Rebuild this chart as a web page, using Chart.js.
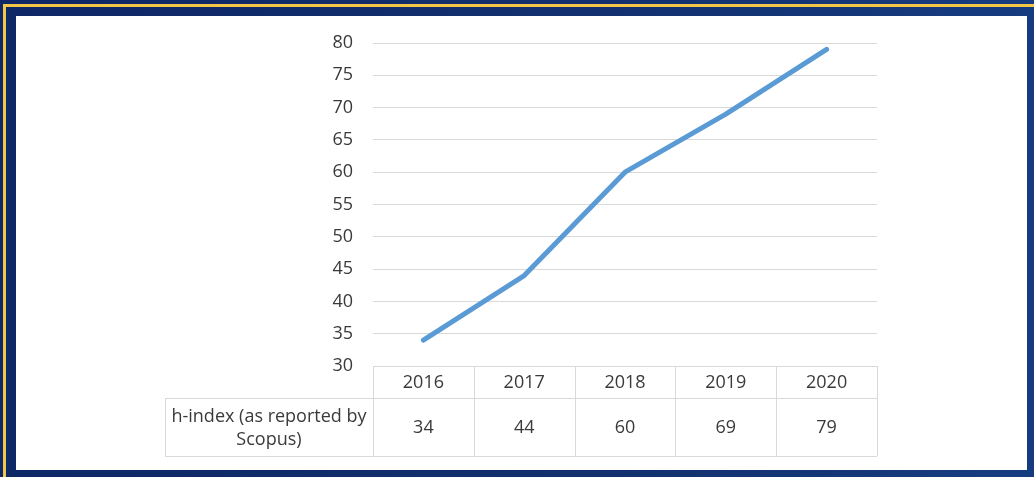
<!DOCTYPE html>
<html>
<head>
<meta charset="utf-8">
<script src="https://cdn.jsdelivr.net/npm/chart.js@4"></script>
<style>
	html, body { margin: 0; padding: 0; overflow: hidden; }
	body { width: 1034px; height: 477px; position: relative;
		background: linear-gradient(90deg, #0e2766 0%, #12306f 60%, #163c80 100%); }
	.bar { position: absolute; background: #f3c647; }
	.panel { position: absolute; left: 16px; top: 16px; width: 1011px; height: 454px; background: #fff; }
	canvas { display: block; }
</style>
</head>
<body>
<div class="bar" style="left:3px;top:4px;width:1031px;height:3px"></div>
<div class="bar" style="left:3px;top:4px;width:3px;height:473px"></div>
<div class="panel"><canvas id="mychart" width="1011" height="454"></canvas></div>
<script>
var years = ['2016', '2017', '2018', '2019', '2020'];
var hindex = [34, 44, 60, 69, 79];
var seriesLabel = ['h-index (as reported by', 'Scopus)'];
var yMin = 30, yMax = 80, yStep = 5;

var fontFamily = '"Open Sans", "Liberation Sans", sans-serif';
var textColor = '#3a3a3a';
var lineColor = '#d9d9d9';

// data table under the plot, laid out from the x scale
var dataTable = {
	id: 'dataTable',
	afterDraw: function (chart) {
		var ctx = chart.ctx;
		var x = chart.scales.x;
		var area = chart.chartArea;
		var colW = (area.right - area.left) / years.length;
		var row1 = area.bottom + 32;
		var row2 = row1 + 58;
		var labelLeft = area.left - 208;
		var i;

		ctx.save();
		ctx.strokeStyle = lineColor;
		ctx.lineWidth = 1;
		ctx.beginPath();
		ctx.moveTo(area.left, row1 + 0.5); ctx.lineTo(area.right, row1 + 0.5);
		ctx.moveTo(labelLeft, row1 + 0.5); ctx.lineTo(area.left, row1 + 0.5);
		ctx.moveTo(labelLeft, row2 + 0.5); ctx.lineTo(area.right, row2 + 0.5);
		ctx.moveTo(labelLeft + 0.5, row1); ctx.lineTo(labelLeft + 0.5, row2);
		for (i = 0; i <= years.length; i++) {
			var bx = Math.round(area.left + i * colW) + 0.5;
			ctx.moveTo(bx, area.bottom); ctx.lineTo(bx, row2);
		}
		ctx.stroke();

		ctx.fillStyle = textColor;
		ctx.font = '18px ' + fontFamily;
		ctx.textAlign = 'center';
		ctx.textBaseline = 'middle';
		for (i = 0; i < years.length; i++) {
			var cx = x.getPixelForValue(i);
			ctx.fillText(years[i], cx, (area.bottom + row1) / 2 + 1);
			ctx.fillText(String(hindex[i]), cx, (row1 + row2) / 2 + 1);
		}
		var lx = (labelLeft + area.left) / 2;
		ctx.fillText(seriesLabel[0], lx, row1 + 19);
		ctx.fillText(seriesLabel[1], lx, row1 + 42);
		ctx.restore();
	}
};

var ctx = document.getElementById('mychart').getContext('2d');
var myChart = new Chart(ctx, {
	type: 'line',
	data: {
		labels: years,
		datasets: [{
			data: hindex,
			label: seriesLabel.join(' '),
			borderColor: '#5b9bd5',
			borderWidth: 5,
			borderCapStyle: 'round',
			borderJoinStyle: 'round',
			pointRadius: 0,
			tension: 0,
			fill: false
		}]
	},
	options: {
		responsive: false,
		animation: false,
		layout: { padding: { left: 0, right: 150, top: 27, bottom: 104 } },
		plugins: { legend: { display: false }, tooltip: { enabled: false } },
		scales: {
			x: { display: false, offset: true },
			y: {
				min: yMin, max: yMax,
				ticks: { stepSize: yStep, padding: 20, color: textColor,
					font: { family: fontFamily, size: 18 } },
				grid: { color: lineColor, drawTicks: false },
				border: { display: false },
				afterFit: function (scale) {
					scale.width = 357;
					scale.paddingTop = 0;
					scale.paddingBottom = 0;
				}
			}
		}
	},
	plugins: [dataTable]
});
</script>
</body>
</html>
